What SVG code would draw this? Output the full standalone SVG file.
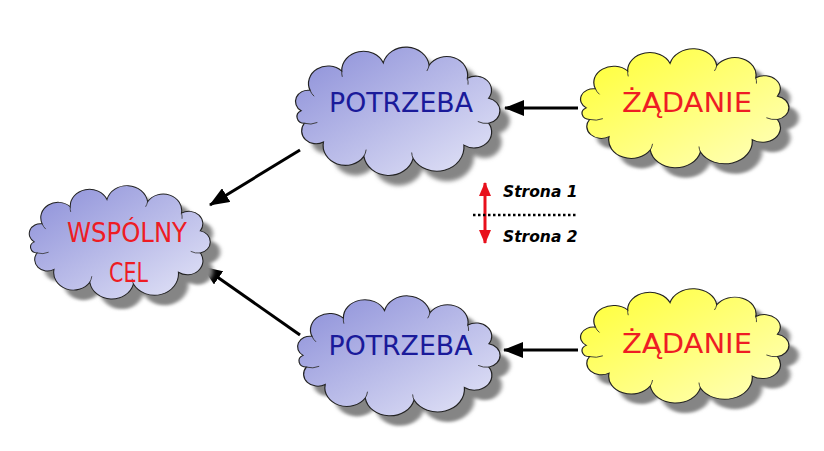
<svg xmlns="http://www.w3.org/2000/svg" width="824" height="451" viewBox="0 0 824 451">
<defs>
<linearGradient id="gBlue" x1="0" y1="0" x2="1" y2="1">
<stop offset="0" stop-color="#8a8dd8"/>
<stop offset="1" stop-color="#e6e7f8"/>
</linearGradient>
<linearGradient id="gYellow" x1="0" y1="0" x2="1" y2="1">
<stop offset="0" stop-color="#ffff33"/>
<stop offset="1" stop-color="#ffffc0"/>
</linearGradient>
<filter id="blur" x="-10%" y="-10%" width="130%" height="130%">
<feGaussianBlur stdDeviation="2"/>
</filter>
<path id="cloud" d="M12,60 A11.6,11.6 0 0 1 20.3,38.9 A18,18 0 0 1 49.5,19 A20,20 0 0 1 87.8,10.5 A21.6,21.6 0 0 1 130.1,13 A19.3,19.3 0 0 1 165.4,26.5 A14.5,14.5 0 0 1 185,47.1 A13.2,13.2 0 0 1 185,72.9 A16.3,16.3 0 0 1 162.2,95.4 A25,25 0 0 1 115.3,109.2 A23.2,23.2 0 0 1 69.9,107 A20.5,20.5 0 0 1 32.6,92.1 A13.3,13.3 0 0 1 15,72.9 A6.8,6.8 0 0 1 12,60 Z"/>
<path id="crease" d="M20.3,38.9 A16,16 0 0 0 24,45 M15,72.9 A16,16 0 0 0 27,72 M69.9,107 A22,22 0 0 0 72,100 M115.3,109.2 A22,22 0 0 1 114,103 M185,72.9 A16,16 0 0 1 175,71 M165.4,26.5 A18,18 0 0 1 166,33 M130.1,13 A20,20 0 0 1 128,19 M49.5,19 A20,20 0 0 0 50,25"/>
<marker id="ah" viewBox="0 0 20 16" refX="19" refY="8" markerWidth="20" markerHeight="16" orient="auto" markerUnits="userSpaceOnUse">
<path d="M0,0 L20,8 L0,16 Z" fill="#000"/>
</marker>
<marker id="ahr" viewBox="0 0 14 12" refX="13" refY="6" markerWidth="14" markerHeight="12" orient="auto-start-reverse" markerUnits="userSpaceOnUse">
<path d="M0,0 L14,6 L0,12 Z" fill="#e8101c"/>
</marker>
</defs>
<style>
.shadow{fill:#858585;filter:url(#blur)}
.blue{fill:url(#gBlue);stroke:#222;stroke-width:1.1}
.yellow{fill:url(#gYellow);stroke:#222;stroke-width:1.1}
.crease{fill:none;stroke:#333;stroke-width:0.9}
.lbl{font-family:"DejaVu Sans","Comic Sans MS",sans-serif;font-size:27px;text-anchor:middle}
.b{fill:#1a1a9a}
.r{fill:#ee1c24}
.conn{stroke:#000;stroke-width:3;fill:none;marker-end:url(#ah)}
.leg{font-family:"DejaVu Sans",sans-serif;font-size:15.5px;font-weight:bold;font-style:italic;fill:#000}
</style>
<rect width="824" height="451" fill="#fff"/>

<g id="connectors">
<line class="conn" x1="578" y1="108" x2="505" y2="108"/>
<line class="conn" x1="578" y1="350" x2="504" y2="350"/>
<line class="conn" x1="300" y1="150" x2="210" y2="205"/>
<line class="conn" x1="300" y1="335" x2="203" y2="267"/>
</g>

<g id="wspolny-cel">
<use href="#cloud" class="shadow" transform="translate(32.7,200.5) scale(0.96,0.857)"/>
<use href="#cloud" class="blue" transform="translate(22.7,190.5) scale(0.96,0.857)"/>
<use href="#crease" class="crease" transform="translate(22.7,190.5) scale(0.96,0.857)"/>
<text class="lbl r" x="127" y="242" font-size="24" textLength="120" lengthAdjust="spacingAndGlyphs">WSPÓLNY</text>
<text class="lbl r" x="128.5" y="282" font-size="24" textLength="39" lengthAdjust="spacingAndGlyphs">CEL</text>
</g>

<g id="potrzeba-1">
<use href="#cloud" class="shadow" transform="translate(298.1,62.6) scale(1.084,0.97)"/>
<use href="#cloud" class="blue" transform="translate(288.1,52.6) scale(1.084,0.97)"/>
<use href="#crease" class="crease" transform="translate(288.1,52.6) scale(1.084,0.97)"/>
<text class="lbl b" x="401" y="112" textLength="144" lengthAdjust="spacingAndGlyphs">POTRZEBA</text>
</g>

<g id="zadanie-1">
<use href="#cloud" class="shadow" transform="translate(583,63.9) scale(1.105,0.899)"/>
<use href="#cloud" class="yellow" transform="translate(573,53.9) scale(1.105,0.899)"/>
<use href="#crease" class="crease" transform="translate(573,53.9) scale(1.105,0.899)"/>
<text class="lbl r" x="687" y="112" textLength="130" lengthAdjust="spacingAndGlyphs">ŻĄDANIE</text>
</g>

<g id="potrzeba-2">
<use href="#cloud" class="shadow" transform="translate(300.2,311) scale(1.074,0.907)"/>
<use href="#cloud" class="blue" transform="translate(290.2,301) scale(1.074,0.907)"/>
<use href="#crease" class="crease" transform="translate(290.2,301) scale(1.074,0.907)"/>
<text class="lbl b" x="400.5" y="355" textLength="144" lengthAdjust="spacingAndGlyphs">POTRZEBA</text>
</g>

<g id="zadanie-2">
<use href="#cloud" class="shadow" transform="translate(583,303.6) scale(1.105,0.864)"/>
<use href="#cloud" class="yellow" transform="translate(573,293.6) scale(1.105,0.864)"/>
<use href="#crease" class="crease" transform="translate(573,293.6) scale(1.105,0.864)"/>
<text class="lbl r" x="687" y="353" textLength="130" lengthAdjust="spacingAndGlyphs">ŻĄDANIE</text>
</g>

<g id="legend">
<line x1="485" y1="183" x2="485" y2="243" stroke="#e8101c" stroke-width="3" marker-start="url(#ahr)" marker-end="url(#ahr)"/>
<line x1="473" y1="215" x2="578" y2="215" stroke="#000" stroke-width="2.5" stroke-dasharray="2.5,2.5"/>
<text class="leg" x="503" y="197">Strona 1</text>
<text class="leg" x="503" y="242">Strona 2</text>
</g>
</svg>
